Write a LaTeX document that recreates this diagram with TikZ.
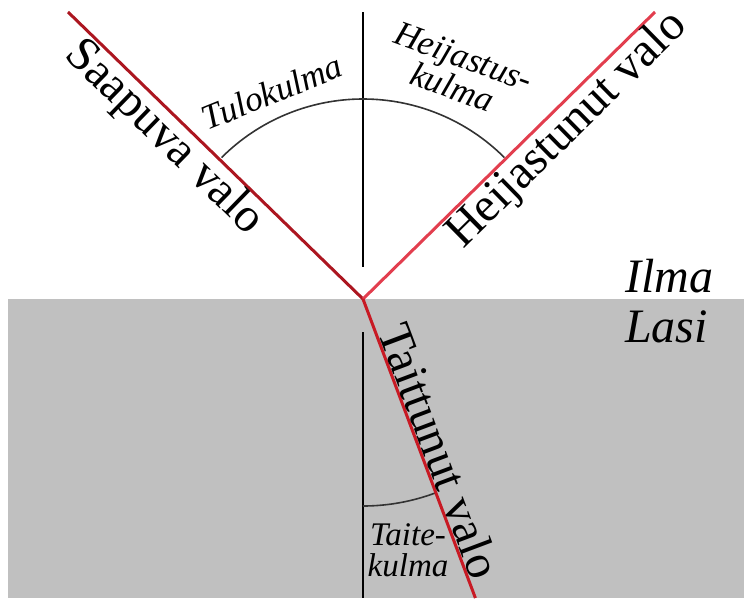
\documentclass[tikz,border=0pt]{standalone}
\usepackage{fontspec}
\setmainfont{Liberation Serif}
\usetikzlibrary{calc}
\definecolor{lasi}{RGB}{192,192,192}
\definecolor{incred}{RGB}{172,22,32}
\definecolor{reflred}{RGB}{226,62,78}
\definecolor{refrred}{RGB}{200,26,36}

\begin{document}
\begin{tikzpicture}[x=1pt,y=1pt,
  raybeam/.style={line width=3pt},
  normalline/.style={black,line width=1.6pt},
  anglearc/.style={black!80,line width=1.6pt},
  beamlabel/.style={font=\fontsize{48}{52}\selectfont,inner sep=1.5pt},
  anglelabel/.style={font=\fontsize{35}{31}\selectfont\itshape,inner sep=0pt,align=center}]
  \useasboundingbox (-363,-299) rectangle (381,299);
  % glass below the surface
  \fill[lasi] (-355,-299) rectangle (381,0);
  \coordinate (O) at (0,0);
  \coordinate (inc) at (-295,287);
  \coordinate (refl) at (292,287);
  \coordinate (refr) at (112.4,-299);
  \coordinate (ntop) at (0,287);
  \coordinate (nmid) at (0,32);
  \coordinate (nlow) at (0,-33);
  \coordinate (nbot) at (0,-299);
  % normal
  \draw[normalline] (ntop) -- (nmid);
  \draw[normalline] (nlow) -- (nbot);
  % angle arcs
  \draw[anglearc] (0,200) arc[start angle=90,end angle=135,radius=200];
  \draw[anglearc] (0,200) arc[start angle=90,end angle=45,radius=200];
  \draw[anglearc] (0,-207) arc[start angle=-90,end angle=-69.4,radius=207];
  % rays
  \draw[raybeam,incred] (inc) -- (O);
  \draw[raybeam,reflred] (O) -- (refl);
  \draw[raybeam,refrred] (O) -- (refr);
  \path (inc) -- (O) node[beamlabel,pos=0.38,sloped,below] (saapuva) {Saapuva valo};
  \path (O) -- (refl) node[beamlabel,pos=0.645,sloped,below] (heijastunut) {Heijastunut valo};
  \path (O) -- (refr) node[beamlabel,pos=0.53,sloped,above] (taittunut) {Taittunut valo};
  % angle names
  \node[anglelabel,rotate=22] (tulo) at (-91,207) {Tulokulma};
  \node[anglelabel,rotate=-20] (heij) at (95,227) {Heijastus-\\kulma};
  \node[anglelabel,font=\fontsize{33}{31}\selectfont\itshape] (taite) at (45,-251) {Taite-\\kulma};
  % media
  \node[beamlabel,font=\fontsize{48}{52}\selectfont\itshape,anchor=base west,inner sep=0pt] (ilma) at (262,7) {Ilma};
  \node[beamlabel,font=\fontsize{48}{52}\selectfont\itshape,anchor=base west,inner sep=0pt] (lasi) at (262,-43) {Lasi};
\end{tikzpicture}
\end{document}
